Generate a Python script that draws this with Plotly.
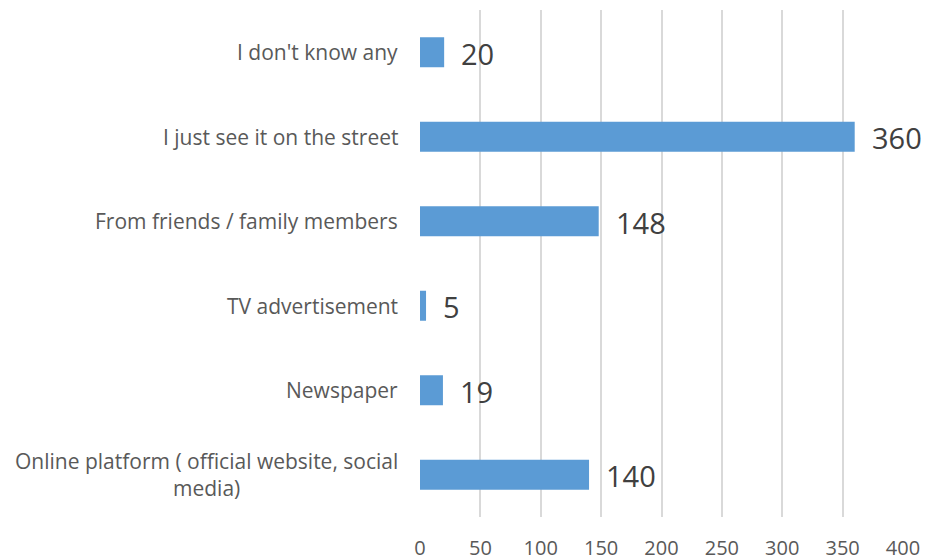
import plotly.graph_objects as go

# Survey: how respondents learned about the service
categories = [
    "Online platform ( official website, social<br>media)",
    "Newspaper",
    "TV advertisement",
    "From friends / family members",
    "I just see it on the street",
    "I don't know any",
]
counts = [140, 19, 5, 148, 360, 20]
x_ticks = [0, 50, 100, 150, 200, 250, 300, 350, 400]

BAR_COLOR = "#5B9BD5"
GRID_COLOR = "#D9D9D9"
FONT = "Open Sans"

fig = go.Figure(
    go.Bar(
        x=counts,
        y=categories,
        orientation="h",
        marker=dict(color=BAR_COLOR, line=dict(width=0)),
        width=0.355,
        hoverinfo="skip",
    )
)

# Value labels to the right of each bar
for cat, val in zip(categories, counts):
    fig.add_annotation(
        x=val, y=cat, xref="x", yref="y",
        text=str(val), showarrow=False,
        xanchor="left", yanchor="middle", xshift=15, yshift=-1,
        font=dict(family=FONT, size=29, color="#404040"),
    )

# Category labels, centred per line and right-aligned against the plot
for cat in categories:
    fig.add_annotation(
        x=0, y=cat, xref="paper", yref="y",
        text=cat, showarrow=False, align="center",
        xanchor="right", yanchor="middle", xshift=-20,
        font=dict(family=FONT, size=21, color="#595959"),
    )

fig.update_layout(
    width=926, height=560,
    margin=dict(l=420, r=23, t=10, b=43, autoexpand=False),
    paper_bgcolor="white", plot_bgcolor="white",
    showlegend=False,
    font=dict(family=FONT),
    xaxis=dict(
        range=[0, 400], tickvals=x_ticks, ticktext=[str(v) for v in x_ticks],
        showgrid=True, gridcolor=GRID_COLOR, gridwidth=1.5,
        zeroline=False, showline=False,
        ticks="outside", ticklen=13, tickcolor="rgba(0,0,0,0)",
        tickfont=dict(family=FONT, size=20, color="#595959"),
        automargin=False,
    ),
    yaxis=dict(
        categoryorder="array", categoryarray=categories,
        range=[-0.5, len(categories) - 0.5],
        showticklabels=False, showgrid=False, zeroline=False, showline=False,
        automargin=False,
    ),
)

fig.write_html("out.html")
